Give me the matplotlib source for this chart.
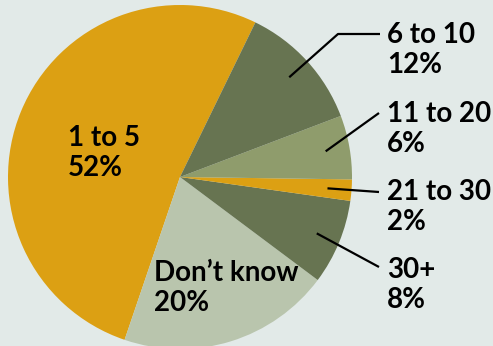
import numpy as np
import matplotlib.pyplot as plt

labels = ['1 to 5', "Don\u2019t know", '30+', '21 to 30', '11 to 20', '6 to 10']
shares = [52, 20, 8, 2, 6, 12]
colors = ['#dca013', '#b9c5ad', '#677451', '#dca013', '#8f9c6c', '#677451']

bg = '#e2eae8'
W, H = 493, 346
cx, cy, R = 180, H - 177, 172

fig = plt.figure(figsize=(W / 100, H / 100), dpi=100, facecolor=bg)
ax = fig.add_axes([0, 0, 1, 1])
ax.set_facecolor(bg)

wedges, _ = ax.pie(shares, colors=colors, startangle=64, counterclock=True,
                   center=(cx, cy), radius=R, frame=True,
                   wedgeprops=dict(linewidth=0))
ax.set_xlim(0, W)
ax.set_ylim(0, H)
ax.set_aspect('equal')
ax.axis('off')

font = dict(family=['Lato', 'DejaVu Sans'], weight='bold', fontsize=20,
            color='black', linespacing=1.2, va='center', ha='left')

# labels drawn inside the big slices
inside = {0: (68, 153), 1: (154, 288)}
for i, (tx, ty) in inside.items():
    ax.text(tx, H - ty, f'{labels[i]}\n{shares[i]}%', **font)

# callouts for the small slices on the right
callouts = {5: (50, [(338, 34), (380, 34)]),
            4: (129, [(379, 113)]),
            3: (207, [(379, 192)]),
            2: (285, [(379, 267)])}
for i, (ty, path) in callouts.items():
    w = wedges[i]
    mid = np.deg2rad((w.theta1 + w.theta2) / 2)
    x0 = cx + 0.86 * R * np.cos(mid)
    y0 = cy + 0.86 * R * np.sin(mid)
    xs = [x0] + [p[0] for p in path]
    ys = [y0] + [H - p[1] for p in path]
    ax.plot(xs, ys, color='black', lw=1.6, solid_capstyle='butt')
    ax.text(387, H - ty, f'{labels[i]}\n{shares[i]}%', **font)

fig.savefig('out.png', dpi=100, facecolor=bg)
